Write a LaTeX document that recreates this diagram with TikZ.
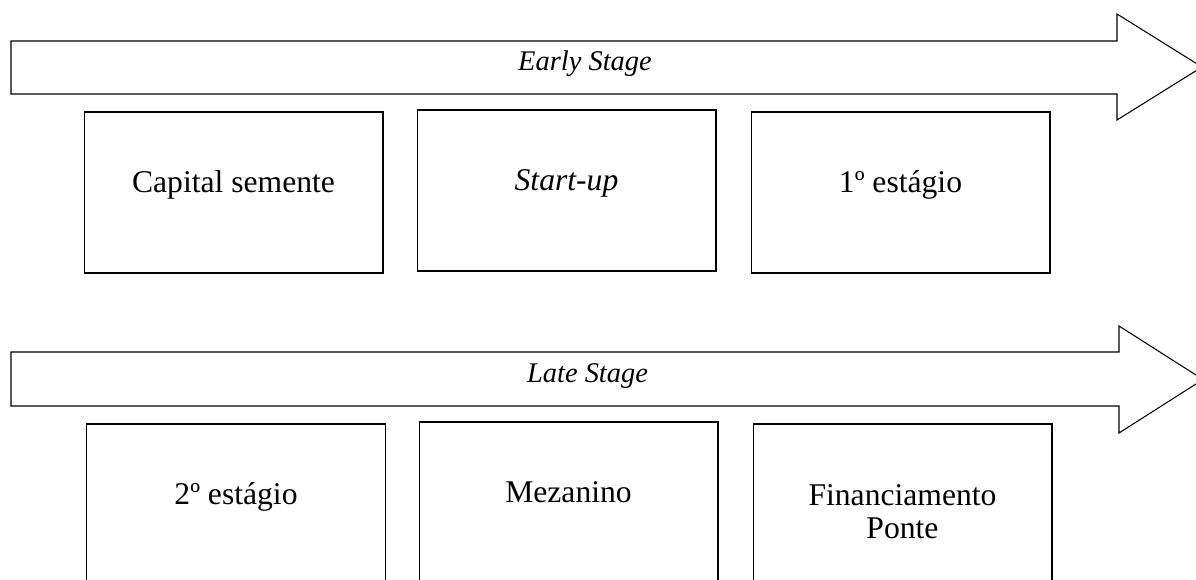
\documentclass[tikz,border=0pt]{standalone}
\usepackage{fontspec}
\setmainfont{Liberation Serif}

\tikzset{
    stagebox/.style={draw, line width=0.6pt, minimum width=5.98cm, minimum height=3.22cm, inner sep=0pt, outer sep=0pt},
    stagetext/.style={anchor=base, align=center, font=\fontsize{18}{19.2}\selectfont},
    stagelabel/.style={anchor=base, font=\fontsize{16.2}{19}\selectfont\itshape},
    bigarrow/.style={draw, line width=0.6pt, line join=miter}
}

\begin{document}
\begin{tikzpicture}[x=0.02cm,y=-0.02cm]% pixel grid, y going down
    \clip (0,0) rectangle (1196,580);

    % Early stage arrow
    \draw[bigarrow] (11,41) -- (1117,41) -- (1117,14) -- (1202,67)
        -- (1117,120) -- (1117,94) -- (11,94) -- cycle;
    \node[stagelabel] (early) at (585,71) {Early Stage};

    \node[stagebox] (capital) at (233.5,192.5) {};
    \node[stagebox] (startup) at (566.5,190.5) {};
    \node[stagebox] (first) at (900.5,192.5) {};
    \node[stagetext] (capitaltxt) at (capital.center) {Capital semente};
    \node[stagetext] (startuptxt) at (startup.center) {\itshape Start-up};
    \node[stagetext] (firsttxt) at (first.center) {1º estágio};

    % Late stage arrow
    \draw[bigarrow] (11,352) -- (1119,352) -- (1119,326) -- (1203,379.5)
        -- (1119,433) -- (1119,406) -- (11,406) -- cycle;
    \node[stagelabel] (late) at (587.5,383) {Late Stage};

    \node[stagebox] (second) at (236,504.5) {};
    \node[stagebox] (mezanino) at (568.5,502.5) {};
    \node[stagebox] (ponte) at (902.5,504.5) {};
    \node[stagetext] (secondtxt) at (second.center) {2º estágio};
    \node[stagetext] (mezaninotxt) at (mezanino.center) {Mezanino};
    % last line sits on the base anchor
    \node[stagetext] (pontetxt) at ([yshift=-19.5pt]ponte.center) {Financiamento\\Ponte};

\end{tikzpicture}
\end{document}
